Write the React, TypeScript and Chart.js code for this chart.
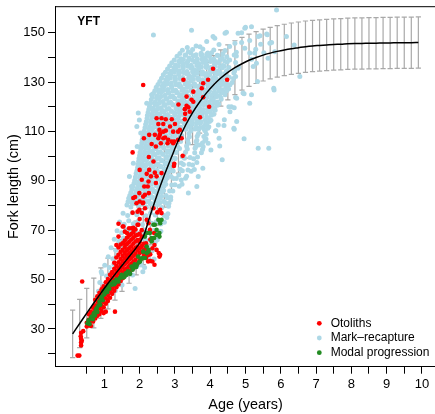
import { useEffect, useRef } from "react";
import { Chart, registerables } from "chart.js";

Chart.register(...registerables);

const FONT = '"Liberation Sans", Arial, Helvetica, sans-serif';

// Axis ticks
const xTickValues = [0.5, 1, 1.5, 2, 2.5, 3, 3.5, 4, 4.5, 5, 5.5, 6, 6.5, 7, 7.5, 8, 8.5, 9, 9.5, 10];
const xTickLabels = [1, 2, 3, 4, 5, 6, 7, 8, 9, 10];
const yTickValues = [20, 30, 40, 50, 60, 70, 80, 90, 100, 110, 120, 130, 140, 150];
const yTickLabels = [30, 50, 70, 90, 110, 130, 150];

const seriesNames = ["Otoliths", "Mark\u2013recapture", "Modal progression"];
const seriesColors = ["#FF0000", "#ADD8E6", "#228B22"];

// Fitted growth curve (age, length) and its spread
const curveAge = [0.1, 0.3, 0.5, 0.7, 0.9, 1.1, 1.3, 1.5, 1.7, 1.9, 2.1, 2.3, 2.5, 2.7, 2.9, 3.1, 3.3, 3.5, 3.7, 3.9, 4.1, 4.3, 4.5, 4.7, 4.9, 5.1, 5.3, 5.5, 5.7, 5.9, 6.1, 6.3, 6.5, 6.7, 6.9, 7.1, 7.3, 7.5, 7.7, 7.9, 8.1, 8.3, 8.5, 8.7, 8.9, 9.1, 9.3, 9.5, 9.7, 9.9];
const curveLength = [28.0, 32.2, 36.4, 40.5, 44.5, 48.4, 52.1, 55.7, 59.2, 62.8, 67.3, 76.0, 84.5, 92.3, 99.5, 106.5, 112.5, 117.6, 121.9, 125.7, 128.9, 131.6, 133.9, 135.8, 137.4, 138.8, 139.9, 140.9, 141.7, 142.4, 143.0, 143.5, 143.9, 144.3, 144.6, 144.8, 145.0, 145.2, 145.3, 145.5, 145.6, 145.6, 145.7, 145.7, 145.8, 145.8, 145.9, 145.9, 145.9, 146.0];
const curveSd = [9.6, 9.8, 10.0, 10.1, 10.2, 10.3, 10.4, 10.5, 10.7, 10.9, 11.3, 12.0, 12.6, 13.0, 13.3, 13.4, 13.3, 13.0, 12.6, 12.2, 11.8, 11.4, 11.1, 10.9, 10.7, 10.6, 10.5, 10.5, 10.4, 10.4, 10.4, 10.4, 10.4, 10.4, 10.4, 10.4, 10.4, 10.4, 10.4, 10.4, 10.4, 10.4, 10.4, 10.4, 10.4, 10.4, 10.4, 10.4, 10.4, 10.4];

// Mark-recapture observations [age, fork length]
const markRecapture: [number, number][] = [
  [3.21,142.9],[3.5,143.2],[3.79,143.4],[4.1,143.0],[4.42,142.8],[4.74,142.1],[3.6,144.6],[4.25,145.2],[4.55,144.4],[3.35,144.0],
  [3.14,141.5],[3.3,140.9],[3.45,141.7],[3.6,141.0],[3.74,141.6],[3.9,141.2],[4.04,141.8],[4.2,140.8],[4.36,141.4],[4.68,140.9],
  [3.06,140.4],[3.17,139.4],[3.29,140.8],[3.4,139.7],[3.52,140.6],[3.63,139.4],[3.75,140.8],[3.86,139.8],[3.98,140.3],[4.1,139.3],[4.22,140.7],[4.34,139.6],[4.47,140.2],[4.74,140.5],
  [2.98,138.9],[3.11,138.4],[3.24,139.1],[3.37,138.5],[3.5,138.8],[3.63,138.2],[3.76,139.2],[3.89,138.6],[4.02,138.9],[4.15,138.3],[4.28,139.0],[4.41,138.5],[4.55,138.9],
  [2.91,137.8],[3.02,136.9],[3.13,138.2],[3.24,137.1],[3.35,137.9],[3.46,136.8],[3.57,138.1],[3.68,137.3],[3.79,137.9],[3.9,136.9],[4.01,138.3],[4.12,137.2],[4.24,137.8],[4.36,136.7],[4.48,138.0],[4.72,137.9],
  [2.85,136.5],[2.97,135.9],[3.1,136.6],[3.23,136.0],[3.36,136.4],[3.49,135.8],[3.62,136.7],[3.75,136.1],[3.88,136.5],[4.01,135.9],[4.14,136.6],[4.27,136.0],[4.4,136.4],[4.53,135.9],[4.8,136.1],
  [2.79,135.3],[2.9,134.4],[3.01,135.8],[3.12,134.6],[3.23,135.5],[3.34,134.3],[3.45,135.7],[3.56,134.8],[3.67,135.4],[3.78,134.2],[3.89,135.9],[4.0,134.7],[4.11,135.2],[4.22,134.4],[4.34,135.8],[4.46,134.6],[4.69,134.5],[4.79,135.6],
  [2.73,134.0],[2.85,133.4],[2.98,134.1],[3.11,133.5],[3.24,133.9],[3.37,133.3],[3.5,134.2],[3.63,133.6],[3.76,134.0],[3.89,133.4],[4.02,134.1],[4.15,133.5],[4.28,133.9],[4.41,133.3],[4.67,133.6],
  [2.67,132.9],[2.78,131.9],[2.89,133.2],[3.0,132.1],[3.11,133.0],[3.22,131.8],[3.33,133.3],[3.44,132.2],[3.55,132.8],[3.66,131.7],[3.77,133.1],[3.88,132.3],[3.99,132.9],[4.1,131.8],[4.21,133.2],[4.32,132.0],[4.43,132.7],[4.54,131.9],[4.72,132.2],
  [2.62,131.5],[2.74,130.9],[2.87,131.6],[3.0,131.0],[3.13,131.4],[3.26,130.8],[3.39,131.7],[3.52,131.1],[3.65,131.5],[3.78,130.9],[3.91,131.6],[4.04,131.0],[4.17,131.4],[4.3,130.8],[4.43,131.5],[4.66,131.4],
  [2.57,130.2],[2.68,129.4],[2.79,130.8],[2.9,129.6],[3.01,130.5],[3.12,129.3],[3.23,130.7],[3.34,129.8],[3.45,130.4],[3.56,129.2],[3.67,130.9],[3.78,129.7],[3.89,130.3],[4.0,129.4],[4.11,130.8],[4.22,129.6],[4.33,130.2],[4.44,129.5],[4.62,129.8],
  [2.52,129.0],[2.64,128.4],[2.77,129.1],[2.9,128.5],[3.03,128.9],[3.16,128.3],[3.29,129.2],[3.42,128.6],[3.55,129.0],[3.68,128.4],[3.81,129.1],[3.94,128.5],[4.07,128.9],[4.2,128.3],[4.33,129.0],[4.46,128.6],[4.56,128.9],
  [2.47,127.9],[2.58,126.8],[2.69,128.1],[2.8,127.0],[2.91,127.8],[3.02,126.7],[3.13,128.2],[3.24,127.2],[3.35,127.9],[3.46,126.9],[3.57,128.3],[3.68,127.1],[3.79,127.7],[3.9,126.8],[4.01,128.1],[4.12,127.3],[4.23,127.8],[4.34,126.9],[4.44,128.0],[4.52,127.2],
  [2.43,126.5],[2.55,125.9],[2.68,126.6],[2.81,126.0],[2.94,126.4],[3.07,125.8],[3.2,126.7],[3.33,126.1],[3.46,126.5],[3.59,125.9],[3.72,126.6],[3.85,126.0],[3.98,126.4],[4.11,125.8],[4.24,126.5],[4.37,126.1],[4.46,126.4],
  [2.39,125.3],[2.5,124.4],[2.61,125.8],[2.72,124.6],[2.83,125.5],[2.94,124.3],[3.05,125.7],[3.16,124.8],[3.27,125.4],[3.38,124.2],[3.49,125.9],[3.6,124.7],[3.71,125.2],[3.82,124.4],[3.93,125.8],[4.04,124.6],[4.15,125.3],[4.26,124.5],[4.35,125.6],[4.42,124.8],
  [2.36,124.0],[2.48,123.4],[2.61,124.1],[2.74,123.5],[2.87,123.9],[3.0,123.3],[3.13,124.2],[3.26,123.6],[3.39,124.0],[3.52,123.4],[3.65,124.1],[3.78,123.5],[3.91,123.9],[4.04,123.3],[4.17,124.0],[4.3,123.6],
  [2.33,122.9],[2.44,121.9],[2.55,123.2],[2.66,122.1],[2.77,123.0],[2.88,121.8],[2.99,123.3],[3.1,122.2],[3.21,122.8],[3.32,121.7],[3.43,123.1],[3.54,122.3],[3.65,122.9],[3.76,121.8],[3.87,123.2],[3.98,122.0],[4.09,122.7],[4.2,121.9],[4.31,123.0],
  [2.31,121.5],[2.43,120.9],[2.56,121.6],[2.69,121.0],[2.82,121.4],[2.95,120.8],[3.08,121.7],[3.21,121.1],[3.34,121.5],[3.47,120.9],[3.6,121.6],[3.73,121.0],[3.86,121.4],[3.99,120.8],[4.12,121.5],[4.24,121.1],
  [2.28,120.2],[2.39,119.4],[2.5,120.8],[2.61,119.6],[2.72,120.5],[2.83,119.3],[2.94,120.7],[3.05,119.8],[3.16,120.4],[3.27,119.2],[3.38,120.9],[3.49,119.7],[3.6,120.3],[3.71,119.4],[3.82,120.8],[3.93,119.6],[4.04,120.2],[4.13,119.5],[4.2,120.6],
  [2.26,119.0],[2.38,118.4],[2.51,119.1],[2.64,118.5],[2.77,118.9],[2.9,118.3],[3.03,119.2],[3.16,118.6],[3.29,119.0],[3.42,118.4],[3.55,119.1],[3.68,118.5],[3.81,118.9],[3.94,118.3],[4.06,119.0],[4.14,118.6],
  [2.24,117.8],[2.35,116.9],[2.46,118.2],[2.57,117.1],[2.68,117.9],[2.79,116.8],[2.9,118.1],[3.01,117.3],[3.12,117.9],[3.23,116.9],[3.34,118.3],[3.45,117.2],[3.56,117.8],[3.67,116.7],[3.78,118.0],[3.89,117.4],[4.0,117.9],[4.1,116.9],
  [2.22,116.5],[2.34,115.9],[2.47,116.6],[2.6,116.0],[2.73,116.4],[2.86,115.8],[2.99,116.7],[3.12,116.1],[3.25,116.5],[3.38,115.9],[3.51,116.6],[3.64,116.0],[3.77,116.4],[3.9,115.8],[4.03,116.5],
  [2.21,115.3],[2.32,114.4],[2.43,115.8],[2.54,114.6],[2.65,115.5],[2.76,114.3],[2.87,115.7],[2.98,114.8],[3.09,115.4],[3.2,114.2],[3.31,115.9],[3.42,114.7],[3.53,115.2],[3.64,114.4],[3.75,115.8],[3.86,114.6],[3.95,115.3],[4.02,114.5],
  [2.19,114.0],[2.31,113.4],[2.44,114.1],[2.57,113.5],[2.7,113.9],[2.83,113.3],[2.96,114.2],[3.09,113.6],[3.22,114.0],[3.35,113.4],[3.48,114.1],[3.61,113.5],[3.74,113.9],[3.87,113.3],[3.98,114.0],
  [2.17,112.9],[2.28,111.9],[2.39,113.2],[2.5,112.1],[2.61,113.0],[2.72,111.8],[2.83,113.3],[2.94,112.2],[3.05,112.8],[3.16,111.7],[3.27,113.1],[3.38,112.3],[3.49,112.9],[3.6,111.8],[3.71,113.2],[3.81,112.0],[3.9,112.7],[3.96,111.9],
  [2.15,111.5],[2.27,110.9],[2.4,111.6],[2.53,111.0],[2.66,111.4],[2.79,110.8],[2.92,111.7],[3.05,111.1],[3.18,111.5],[3.31,110.9],[3.44,111.6],[3.57,111.0],[3.7,111.4],[3.83,110.8],[3.93,111.3],
  [2.13,110.2],[2.24,109.4],[2.35,110.8],[2.46,109.6],[2.57,110.5],[2.68,109.3],[2.79,110.7],[2.9,109.8],[3.01,110.4],[3.12,109.2],[3.23,110.9],[3.45,110.3],[3.67,110.8],[3.86,110.2],
  [2.11,109.0],[2.23,108.4],[2.36,109.1],[2.49,108.5],[2.62,108.9],[2.75,108.3],[2.88,109.2],[3.01,108.6],[3.14,109.0],[3.4,109.1],[3.66,108.9],[3.89,108.8],
  [2.09,107.8],[2.2,106.9],[2.31,108.2],[2.42,107.1],[2.53,107.9],[2.64,106.8],[2.75,108.1],[2.86,107.3],[2.97,107.9],[3.08,106.9],[3.19,108.3],[3.41,107.8],[3.63,108.0],[3.82,107.9],[3.88,106.9],
  [2.07,106.5],[2.19,105.9],[2.32,106.6],[2.45,106.0],[2.58,106.4],[2.71,105.8],[2.84,106.7],[2.97,106.1],[3.1,106.5],[3.36,106.6],[3.62,106.4],[3.85,106.3],
  [2.06,105.3],[2.17,104.4],[2.28,105.8],[2.39,104.6],[2.5,105.5],[2.61,104.3],[2.72,105.7],[2.83,104.8],[2.94,105.4],[3.05,104.2],[3.16,105.9],[3.38,105.2],[3.6,105.8],[3.78,105.3],
  [2.04,104.0],[2.16,103.4],[2.29,104.1],[2.42,103.5],[2.55,103.9],[2.68,103.3],[2.81,104.2],[2.94,103.6],[3.07,104.0],[3.33,104.1],[3.59,103.9],[3.8,103.8],
  [2.03,102.9],[2.14,101.9],[2.25,103.2],[2.36,102.1],[2.47,103.0],[2.58,101.8],[2.69,103.3],[2.8,102.2],[2.91,102.8],[3.02,101.7],[3.13,103.1],[3.35,102.9],[3.57,103.2],[3.78,102.7],
  [2.01,101.5],[2.13,100.9],[2.26,101.6],[2.39,101.0],[2.52,101.4],[2.65,100.8],[2.78,101.7],[2.91,101.1],[3.04,101.5],[3.3,101.6],[3.56,101.4],[3.75,101.3],
  [2.0,100.2],[2.11,99.4],[2.22,100.8],[2.33,99.6],[2.44,100.5],[2.55,99.3],[2.66,100.7],[2.77,99.8],[2.88,100.4],[2.99,99.2],[3.21,99.7],[3.43,99.4],[3.64,99.6],
  [1.98,99.0],[2.1,98.4],[2.23,99.1],[2.36,98.5],[2.49,98.9],[2.62,98.3],[2.75,99.2],[2.88,98.6],[3.01,99.0],[3.27,99.1],[3.53,98.9],
  [1.97,97.8],[2.08,96.9],[2.19,98.2],[2.3,97.1],[2.41,97.9],[2.52,96.8],[2.63,98.1],[2.74,97.3],[2.85,97.9],[2.96,96.9],[3.18,97.2],[3.4,96.7],[3.62,97.4],
  [1.95,96.5],[2.07,95.9],[2.2,96.6],[2.33,96.0],[2.46,96.4],[2.59,95.8],[2.72,96.7],[2.85,96.1],[2.98,96.5],[3.24,96.6],[3.5,96.4],
  [1.94,95.3],[2.05,94.4],[2.16,95.8],[2.27,94.6],[2.38,95.5],[2.49,94.3],[2.6,95.7],[2.71,94.8],[2.82,95.4],[2.93,94.2],[3.15,94.7],[3.37,94.4],[3.55,94.6],
  [1.92,94.0],[2.04,93.4],[2.17,94.1],[2.3,93.5],[2.43,93.9],[2.56,93.3],[2.69,94.2],[2.82,93.6],[2.95,94.0],[3.21,94.1],[3.46,93.9],
  [1.9,92.9],[2.01,91.9],[2.12,93.2],[2.23,92.1],[2.34,93.0],[2.45,91.8],[2.56,93.3],[2.67,92.2],[2.78,92.8],[2.89,91.7],[3.11,92.3],[3.33,91.8],
  [1.88,91.5],[2.0,90.9],[2.13,91.6],[2.26,91.0],[2.39,91.4],[2.52,90.8],[2.65,91.7],[2.78,91.1],[3.04,90.9],[3.3,91.0],
  [1.86,90.2],[1.97,89.4],[2.08,90.8],[2.19,89.6],[2.3,90.5],[2.41,89.3],[2.52,90.7],[2.63,89.8],[2.74,90.4],[2.96,90.9],[3.18,90.3],
  [1.84,89.0],[1.96,88.4],[2.09,89.1],[2.22,88.5],[2.35,88.9],[2.48,88.3],[2.61,89.2],[2.74,88.6],[3.0,88.4],[3.2,88.6],
  [1.81,87.8],[1.92,86.9],[2.03,88.2],[2.14,87.1],[2.25,87.9],[2.36,86.8],[2.47,88.1],[2.58,87.3],[2.69,87.9],[2.91,88.3],[3.12,87.8],
  [1.78,86.5],[1.9,85.9],[2.03,86.6],[2.16,86.0],[2.29,86.4],[2.42,85.8],[2.55,86.7],[2.68,86.1],[2.94,85.9],
  [1.75,85.3],[1.86,84.4],[1.97,85.8],[2.08,84.6],[2.19,85.5],[2.3,84.3],[2.41,85.7],[2.52,84.8],[2.63,85.4],[2.85,85.9],
  [1.72,84.0],[1.84,83.4],[1.97,84.1],[2.1,83.5],[2.23,83.9],[2.36,83.3],[2.49,84.2],[2.62,83.6],[2.75,84.0],[2.88,83.4],
  [1.69,82.9],[1.8,81.9],[1.91,83.2],[2.02,82.1],[2.13,83.0],[2.24,81.8],[2.35,83.3],[2.46,82.2],[2.57,82.8],[2.68,81.7],[2.79,83.1],[2.88,82.3],
  [1.67,81.5],[1.79,80.9],[1.92,81.6],[2.05,81.0],[2.18,81.4],[2.31,80.8],[2.44,81.7],[2.57,81.1],[2.7,81.5],[2.83,80.9],
  [1.64,80.2],[1.75,79.4],[1.86,80.8],[1.97,79.6],[2.08,80.5],[2.19,79.3],[2.3,80.7],[2.41,79.8],[2.52,80.4],[2.63,79.2],[2.74,80.9],[2.82,79.7],
  [1.53,76.8],[1.66,75.9],[1.79,77.1],[1.92,76.2],[2.05,77.0],[2.18,75.8],[2.31,76.9],[2.44,76.1],[2.57,77.2],[2.7,75.9],[2.8,76.6],
  [1.43,73.3],[1.56,72.4],[1.69,73.8],[1.82,72.6],[1.95,73.5],[2.08,72.3],[2.21,73.7],[2.34,72.8],[2.47,73.4],[2.6,72.5],[2.7,73.2],
  [1.36,69.8],[1.49,68.9],[1.62,70.2],[1.75,69.1],[1.88,69.9],[2.01,68.8],[2.14,70.1],[2.27,69.3],[2.4,69.9],[2.52,68.9],[2.6,69.6],
  [1.28,66.3],[1.41,65.4],[1.54,66.8],[1.67,65.6],[1.8,66.5],[1.93,65.3],[2.06,66.7],[2.19,65.8],[2.32,66.4],[2.44,65.2],[2.5,66.1],
  [1.19,62.9],[1.32,61.9],[1.45,63.2],[1.58,62.1],[1.71,63.0],[1.84,61.8],[1.97,63.3],[2.1,62.2],[2.23,62.8],[2.35,61.7],[2.42,62.5],
  [1.11,59.2],[1.24,58.4],[1.37,59.8],[1.5,58.6],[1.63,59.5],[1.76,58.3],[1.89,59.7],[2.02,58.8],[2.15,59.4],[2.27,58.2],
  [1.01,55.8],[1.14,54.9],[1.27,56.2],[1.4,55.1],[1.53,55.9],[1.66,54.8],[1.79,56.1],[1.92,55.3],[2.04,55.9],[2.14,54.9],
  [0.93,52.3],[1.06,51.4],[1.19,52.8],[1.32,51.6],[1.45,52.5],[1.58,51.3],[1.71,52.7],[1.8,51.8],
  [0.87,48.8],[1.0,47.9],[1.13,49.2],[1.26,48.1],[1.39,48.9],[1.5,47.8],
  [0.83,45.3],[0.96,44.4],[1.09,45.8],[1.22,44.6],[1.31,45.5],
  [0.81,41.8],[0.94,40.9],[1.06,42.2],[0.82,38.3],[0.95,37.4],
  [1.87,46.4],[2.09,53.2],[2.41,58.3],[2.55,81.0],[2.77,75.1],[0.91,53.2],
  [3.38,85.0],[3.62,87.7],[3.66,91.7],[3.79,95.1],[3.68,104.5],[3.94,105.2],[4.02,102.5],[4.15,110.2],[4.23,112.6],[4.4,114.7],[4.56,118.0],[4.6,120.0],[4.68,110.9],[4.75,114.0],[4.67,111.3],
  [4.34,98.5],[4.25,107.2],[4.27,104.1],[4.96,107.0],[5.36,103.2],[5.66,103.2],[4.39,112.4],[4.16,110.3],[4.53,120.0],[4.68,119.6],
  [4.72,123.7],[4.96,125.2],[5.17,124.8],[5.12,121.4],[4.75,123.4],[4.93,125.5],[5.34,130.2],[5.81,126.8],[5.8,127.5],[6.54,132.2],
  [5.31,137.6],[5.17,139.2],[5.64,139.6],[5.22,136.3],[5.52,141.9],[5.83,142.3],[5.26,141.7],[5.12,141.7],[5.29,143.3],[4.98,143.7],
  [4.7,145.7],[4.89,146.0],[5.12,146.8],[5.43,145.3],[5.74,146.0],[5.69,145.7],[6.38,145.0],[6.16,148.4],[5.41,148.7],[5.6,149.4],
  [5.36,148.4],[5.62,149.1],[4.46,150.2],[4.89,150.0],[5.0,152.2],[5.17,152.4],[4.42,149.7],[4.79,149.7],[4.98,151.8],[4.13,147.7],
  [5.88,159.2],[3.47,151.0],[2.39,149.0],[4.08,148.4],[3.9,146.4],[3.71,144.3],[3.38,142.3],[3.93,141.7],[3.76,141.0],[3.22,137.6],
  [3.03,134.9],[2.86,132.2],[2.77,129.5],[2.56,126.8],[2.34,124.8],[2.2,121.4],[1.96,117.4],[1.99,114.6],[1.92,112.0],[2.03,109.3],
  [1.93,103.9],[1.82,97.1],[1.71,91.7],[1.77,87.7]
];

// Otolith ages [age, fork length]
const otoliths: [number, number][] = [
  [2.1,128.8],[1.8,101.5],[2.12,107.2],[2.27,108.6],[2.34,104.9],[2.46,103.9],[2.26,99.6],[2.39,97.8],[2.27,94.4],[2.43,93.3],
  [2.62,93.1],[2.0,94.4],[2.2,92.8],[2.32,91.8],[2.48,91.8],[2.06,90.4],[2.25,89.7],[2.46,89.1],[2.13,87.7],[2.23,87.7],
  [1.99,85.0],[2.26,85.0],[2.15,84.3],[2.1,83.6],[1.87,83.4],[1.82,83.0],[1.91,80.9],[2.09,80.9],[1.8,77.1],[1.99,78.2],[2.39,78.9],
  [2.48,115.3],[2.62,115.3],[2.74,114.9],[2.91,114.9],[2.53,113.0],[2.67,113.0],[3.0,113.0],[2.86,112.0],[2.56,110.6],[2.74,110.3],
  [2.67,109.9],[2.95,109.9],[3.09,109.9],[2.58,109.0],[2.43,108.6],[2.56,108.2],[2.72,107.5],[2.53,107.2],[2.67,107.2],[3.19,107.2],
  [2.81,106.6],[3.09,106.6],[2.91,105.9],[2.98,105.9],[2.6,105.2],[2.79,105.2],[2.95,105.2],[3.22,100.1],[2.98,96.9],[2.97,96.0],
  [3.24,130.9],[3.8,129.5],[3.76,127.5],[3.94,130.9],[4.08,135.4],[4.48,130.9],[3.52,126.1],[3.33,124.1],[3.8,123.8],[3.47,122.8],
  [3.52,122.0],[3.1,120.9],[3.33,120.4],[3.38,119.8],[3.97,120.0],[3.28,119.0],[3.42,118.0],[3.29,117.1],[3.71,115.7],[3.28,114.9],[3.14,110.6],
  [0.24,19.2],[0.29,19.2],[0.34,23.3],[0.34,24.5],[0.34,26.0],[0.33,27.0],[0.34,28.4],[0.36,25.2],[0.4,29.1],[0.37,49.2],
  [0.5,31.0],[0.5,32.5],[0.56,31.5],[0.56,33.8],[0.56,35.9],[0.62,31.2],[0.62,33.0],[0.62,35.2],[0.62,37.0],
  [0.68,33.0],[0.68,34.6],[0.68,36.4],[0.68,38.6],[0.74,34.2],[0.74,35.8],[0.74,37.7],[0.74,39.6],[0.74,41.8],
  [0.8,35.3],[0.8,37.2],[0.8,39.3],[0.8,41.0],[0.8,43.2],[0.86,36.0],[0.86,38.4],[0.86,40.1],[0.86,42.3],[0.86,44.6],
  [0.92,37.2],[0.92,39.4],[0.92,41.5],[0.92,43.5],[0.92,46.0],[0.98,36.4],[0.98,38.8],[0.98,40.9],[0.98,42.7],[0.98,44.9],[0.98,47.3],
  [1.04,37.0],[1.04,40.2],[1.04,42.4],[1.04,44.4],[1.04,46.5],[1.04,48.9],[1.1,41.3],[1.1,43.8],[1.1,45.6],[1.1,47.8],[1.1,50.2],
  [1.16,42.6],[1.16,45.2],[1.16,47.0],[1.16,49.3],[1.16,51.9],[1.22,44.2],[1.22,46.4],[1.22,48.5],[1.22,50.7],[1.22,53.0],
  [1.28,45.5],[1.28,47.8],[1.28,49.9],[1.28,52.0],[1.28,54.4],[1.28,56.8],[1.3,37.0],
  [1.34,46.9],[1.34,49.1],[1.34,51.3],[1.34,53.5],[1.34,55.6],[1.34,58.9],[1.34,64.0],
  [1.4,48.0],[1.4,50.4],[1.4,52.6],[1.4,54.8],[1.4,57.0],[1.4,60.0],[1.4,63.0],[1.4,67.4],[1.4,72.6],
  [1.46,49.4],[1.46,51.7],[1.46,53.9],[1.46,56.0],[1.46,58.3],[1.46,61.2],[1.46,64.2],
  [1.52,50.5],[1.52,52.8],[1.52,55.1],[1.52,57.4],[1.52,59.6],[1.52,62.0],[1.52,64.7],[1.52,71.5],
  [1.58,51.6],[1.58,53.9],[1.58,56.2],[1.58,58.5],[1.58,60.7],[1.58,63.2],[1.58,65.8],[1.58,69.4],
  [1.64,52.5],[1.64,54.6],[1.64,57.0],[1.64,59.5],[1.64,61.8],[1.64,64.4],[1.64,66.9],[1.64,68.8],
  [1.7,53.2],[1.7,55.5],[1.7,58.0],[1.7,60.4],[1.7,62.7],[1.7,65.2],[1.7,67.8],[1.7,70.8],
  [1.76,54.0],[1.76,56.4],[1.76,58.7],[1.76,61.2],[1.76,63.5],[1.76,66.1],[1.76,68.4],
  [1.82,54.6],[1.82,57.2],[1.82,59.6],[1.82,62.0],[1.82,64.5],[1.82,66.9],[1.82,69.2],[1.82,71.0],
  [1.88,55.4],[1.88,58.0],[1.88,60.5],[1.88,62.9],[1.88,65.4],[1.88,67.8],[1.88,70.3],
  [1.94,56.6],[1.94,59.3],[1.94,61.8],[1.94,63.4],[1.94,66.0],[1.94,68.1],[1.94,72.2],[1.94,77.5],
  [2.0,57.7],[2.0,60.7],[2.0,62.7],[2.0,65.0],[2.0,66.1],[2.0,68.5],[2.0,74.5],[2.0,81.6],
  [2.06,58.5],[2.06,61.2],[2.06,63.6],[2.06,67.4],[2.06,70.0],[2.06,76.9],
  [2.12,59.6],[2.12,62.0],[2.12,64.5],[2.15,78.9],[2.1,81.2],
  [2.18,58.7],[2.18,60.6],[2.18,63.0],[2.18,64.7],[2.2,74.2],
  [2.24,57.3],[2.24,59.9],[2.24,61.8],[2.25,72.8],[2.3,57.5],[2.3,60.2],[2.29,70.1],[2.3,66.2],
  [2.36,57.3],[2.36,62.7],[2.34,66.1],[2.42,56.0],[2.42,64.0],[2.41,68.8],[2.48,62.0],[2.5,77.2],
  [2.54,60.7],[2.56,59.3],[2.58,60.0],[2.58,78.2],[2.62,76.9],[1.54,71.5],[1.77,70.8],[1.54,64.7],[1.96,72.2]
];

// Modal progression estimates [age, fork length]
const modalProgression: [number, number][] = [
  [0.52,32.3],[0.55,33.5],[0.58,32.0],[0.62,34.2],[0.64,35.0],[0.67,33.9],[0.7,36.3],[0.73,35.4],[0.76,37.6],[0.78,38.4],
  [0.8,36.9],[0.83,39.5],[0.86,41.1],[0.88,39.8],[0.91,42.0],[0.93,43.1],[0.95,41.6],[0.97,45.2],[1.0,44.0],[1.03,45.8],
  [1.05,46.5],[1.08,45.0],[1.11,47.5],[1.14,46.3],[1.18,48.2],[1.21,47.9],[1.25,49.0],[1.28,48.1],[1.3,48.6],[1.34,50.0],
  [1.37,49.3],[1.4,49.2],[1.44,50.6],[1.48,51.5],[1.52,50.8],[1.56,51.0],[1.6,52.4],[1.63,51.9],[1.67,53.3],[1.7,52.8],
  [1.73,52.3],[1.77,55.3],[1.8,54.0],[1.82,54.6],[1.86,56.2],[1.9,55.1],[1.92,55.9],[1.96,59.3],[1.98,57.0],[2.01,57.3],
  [2.05,58.4],[2.1,58.7],[2.1,61.3],[2.15,58.7],[2.15,67.4],[2.2,60.7],[2.2,63.4],[2.2,68.8],[2.25,62.0],[2.25,61.3],
  [2.29,68.8],[2.34,65.4],[2.34,66.8],[2.39,72.2],[2.41,66.8],[2.43,72.2],[2.48,68.1],[2.48,70.1],[2.53,74.2],[2.56,68.8],
  [2.56,67.4],[2.58,73.5],[2.58,72.8],[2.62,74.2],[1.63,52.6],[1.49,51.9]
];

const toXY = (arr: [number, number][]) => arr.map(([x, y]) => ({ x, y }));

const decorPlugin = {
  id: "decor",
  beforeDatasetsDraw(chart: any) {
    const { ctx, scales } = chart;
    const xs = scales.x;
    const ys = scales.y;
    ctx.save();
    ctx.strokeStyle = "#A9A9A9";
    ctx.lineWidth = 1.2;
    for (let i = 0; i < curveAge.length; i++) {
      const px = xs.getPixelForValue(curveAge[i]);
      const top = ys.getPixelForValue(curveLength[i] + curveSd[i]);
      const bot = ys.getPixelForValue(curveLength[i] - curveSd[i]);
      ctx.beginPath();
      ctx.moveTo(px, top);
      ctx.lineTo(px, bot);
      ctx.moveTo(px - 2.6, top);
      ctx.lineTo(px + 2.6, top);
      ctx.moveTo(px - 2.6, bot);
      ctx.lineTo(px + 2.6, bot);
      ctx.stroke();
    }
    ctx.restore();
  },
  afterDraw(chart: any) {
    const { ctx, chartArea } = chart;
    ctx.save();
    ctx.strokeStyle = "#000";
    ctx.lineWidth = 1;
    ctx.beginPath();
    ctx.moveTo(chartArea.left, chartArea.top);
    ctx.lineTo(chartArea.right, chartArea.top);
    ctx.lineTo(chartArea.right, chartArea.bottom);
    ctx.stroke();

    ctx.fillStyle = "#000";
    ctx.font = `bold 12px ${FONT}`;
    ctx.textAlign = "left";
    ctx.textBaseline = "middle";
    ctx.fillText("YFT", 77.3, 21.7);

    ctx.font = `12px ${FONT}`;
    const rows = [323.3, 338.0, 352.7];
    for (let i = 0; i < seriesNames.length; i++) {
      ctx.fillStyle = seriesColors[i];
      ctx.beginPath();
      ctx.arc(319.3, rows[i], 2.4, 0, Math.PI * 2);
      ctx.fill();
      ctx.fillStyle = "#000";
      ctx.fillText(seriesNames[i], 330.7, rows[i]);
    }
    ctx.restore();
  },
};

export default function App() {
  const ref = useRef<HTMLCanvasElement | null>(null);

  useEffect(() => {
    if (!ref.current) return;
    const tickFont = { family: FONT, size: 13 };
    const titleFont = { family: FONT, size: 14.4 };
    const chart = new Chart(ref.current, {
      type: "scatter",
      data: {
        datasets: [
          {
            label: "curve",
            data: curveAge.map((a, i) => ({ x: a, y: curveLength[i] })),
            showLine: true,
            borderColor: "#000",
            borderWidth: 1.5,
            pointRadius: 0,
            cubicInterpolationMode: "monotone",
            order: 0,
          } as any,
          {
            label: seriesNames[2],
            data: toXY(modalProgression),
            backgroundColor: seriesColors[2],
            borderWidth: 0,
            pointRadius: 2.3,
            order: 1,
          },
          {
            label: seriesNames[0],
            data: toXY(otoliths),
            backgroundColor: seriesColors[0],
            borderWidth: 0,
            pointRadius: 2.3,
            order: 2,
          },
          {
            label: seriesNames[1],
            data: toXY(markRecapture),
            backgroundColor: seriesColors[1],
            borderWidth: 0,
            pointRadius: 2.5,
            order: 3,
          },
        ],
      },
      options: {
        responsive: false,
        animation: false,
        devicePixelRatio: 1,
        events: [],
        layout: { padding: { top: 6.7, right: 3.4, bottom: 0, left: 0 } },
        plugins: { legend: { display: false }, tooltip: { enabled: false } },
        scales: {
          x: {
            type: "linear",
            min: -0.4,
            max: 10.4,
            afterBuildTicks: (s: any) => {
              s.ticks = xTickValues.map((v) => ({ value: v }));
            },
            afterFit: (s: any) => {
              s.height = 47.3;
              s.paddingLeft = 0;
              s.paddingRight = 0;
            },
            ticks: {
              autoSkip: false,
              maxRotation: 0,
              padding: 3,
              color: "#000",
              font: tickFont,
              callback: (v: any) => (xTickLabels.includes(Number(v)) ? String(v) : ""),
            },
            grid: { drawOnChartArea: false, drawTicks: true, tickLength: 7, color: "#000" },
            border: { display: true, color: "#000", width: 1 },
            title: { display: true, text: "Age (years)", color: "#000", font: titleFont, padding: { top: 0, bottom: 0 } },
          },
          y: {
            type: "linear",
            min: 14.7,
            max: 160.5,
            afterBuildTicks: (s: any) => {
              s.ticks = yTickValues.map((v) => ({ value: v }));
            },
            afterFit: (s: any) => {
              s.width = 55;
              s.paddingTop = 0;
              s.paddingBottom = 0;
            },
            ticks: {
              autoSkip: false,
              padding: 3,
              color: "#000",
              font: tickFont,
              callback: (v: any) => (yTickLabels.includes(Number(v)) ? String(v) : ""),
            },
            grid: { drawOnChartArea: false, drawTicks: true, tickLength: 7, color: "#000" },
            border: { display: true, color: "#000", width: 1 },
            title: { display: true, text: "Fork length (cm)", color: "#000", font: titleFont, padding: { top: 5.4, bottom: 0 } },
          },
        },
      } as any,
      plugins: [decorPlugin],
    });
    return () => chart.destroy();
  }, []);

  return (
    <div style={{ position: "absolute", left: 0, top: 0, width: 435, height: 414, overflow: "hidden", background: "#fff" }}>
      <canvas ref={ref} width={440} height={414} style={{ display: "block" }} />
    </div>
  );
}
